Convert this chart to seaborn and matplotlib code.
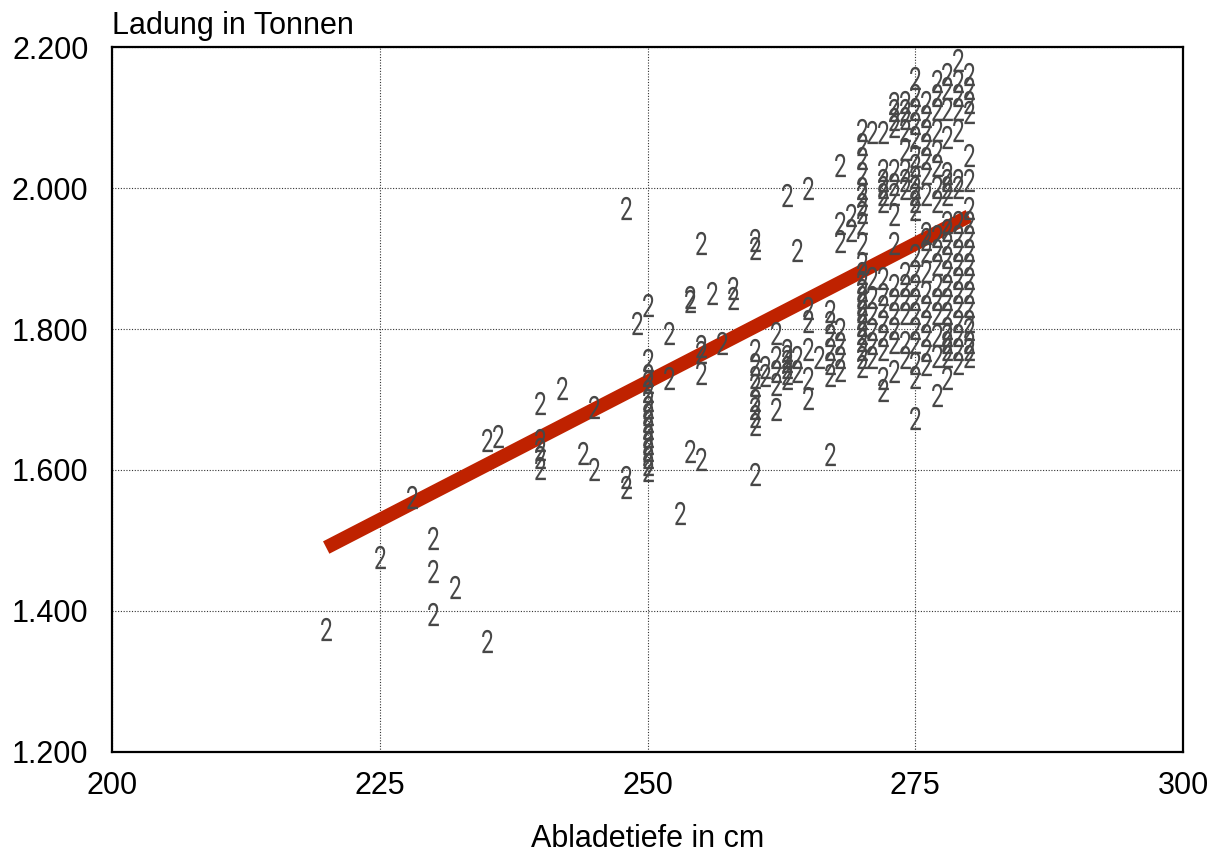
import matplotlib
matplotlib.use('Agg')
import matplotlib.pyplot as plt
from matplotlib.path import Path
from matplotlib.textpath import TextPath
from matplotlib.font_manager import FontProperties
from matplotlib.ticker import FuncFormatter
import pandas as pd
import seaborn as sns

tiefe_cm = (
    [220] + [225] + [228] + [230] * 3 + [232] + [235] * 2 + [236]
    + [240] * 5 + [242] + [244] + [245] * 2 + [248] * 3 + [249]
    + [250] * 16 + [252] * 2 + [253] + [254] * 3 + [255] * 5 + [256] + [257]
    + [258] * 2 + [260] * 11 + [261] * 2 + [262] * 5 + [263] * 7 + [264] * 3
    + [265] * 6 + [266] + [267] * 7 + [268] * 7 + [269] * 2 + [270] * 24
    + [271] * 7 + [272] * 14 + [273] * 15 + [274] * 14 + [275] * 22
    + [276] * 17 + [277] * 17 + [278] * 22 + [279] * 18 + [280] * 19
)
ladung_t = [
    1375, 1477, 1562, 1503, 1457, 1396, 1434, 1642, 1357, 1648,
    1695, 1642, 1630, 1618, 1603, 1716, 1624, 1689, 1601, 1971, 1590, 1576, 1808,
    1834, 1756, 1735, 1725, 1712, 1700, 1690, 1680, 1670, 1660, 1648, 1638, 1628, 1618, 1608, 1600,
    1794, 1730, 1539, 1840, 1845, 1627, 1922, 1776, 1767, 1737, 1615, 1851, 1780,
    1858, 1844,
    1926, 1915, 1770, 1750, 1732, 1720, 1700, 1688, 1676, 1665, 1594,
    1746, 1735,
    1794, 1760, 1740, 1722, 1686,
    1990, 1770, 1762, 1754, 1746, 1738, 1730,
    1912, 1760, 1740,
    2000, 1830, 1812, 1772, 1730, 1702,
    1760,
    1825, 1810, 1792, 1772, 1752, 1735, 1622,
    2032, 1950, 1925, 1800, 1780, 1760, 1742,
    1962, 1940,
    2082, 2062, 2042, 2022, 2000, 1990, 1978, 1966, 1950, 1922, 1893, 1880,
    1866, 1855, 1845, 1835, 1825, 1815, 1805, 1795, 1785, 1772, 1760, 1748,
    2080, 1872, 1845, 1822, 1800, 1780, 1760,
    2080, 2025, 2012, 2002, 1992, 1982, 1872, 1850, 1832, 1812, 1792, 1772, 1730, 1713,
    2120, 2110, 2098, 2088, 2025, 2005, 1992, 1963, 1922, 1862, 1842, 1822, 1802, 1782, 1740,
    2122, 2110, 2100, 2082, 2055, 2025, 2012, 2000, 1880, 1862, 1842, 1822, 1782, 1760,
    2156, 2132, 2112, 2092, 2072, 2045, 2032, 2015, 2002, 1992, 1982, 1970,
    1905, 1882, 1862, 1842, 1822, 1802, 1782, 1752, 1732, 1674,
    2122, 2102, 2082, 2062, 2042, 2022, 1992, 1936, 1928, 1910, 1882, 1852,
    1832, 1812, 1792, 1770, 1750,
    2152, 2132, 2112, 2082, 2052, 2032, 2002, 1982, 1932, 1912, 1892, 1862,
    1842, 1822, 1792, 1762, 1706,
    2162, 2142, 2112, 2072, 2022, 2012, 2002, 1992, 1952, 1940, 1922, 1902,
    1882, 1862, 1842, 1822, 1802, 1792, 1782, 1772, 1762, 1730,
    2181, 2152, 2132, 2112, 2082, 2012, 2002, 1952, 1932, 1912, 1892, 1872,
    1852, 1832, 1812, 1792, 1772, 1752,
    2162, 2142, 2122, 2108, 2047, 2012, 1972, 1952, 1932, 1912, 1892, 1872,
    1852, 1832, 1812, 1800, 1782, 1772, 1762,
]

# Trendlinie (Anfang / Ende)
trend_cm = [220, 280]
trend_t = [1490, 1960]

x_ticks = [200, 225, 250, 275, 300]
y_ticks = [1200, 1400, 1600, 1800, 2000, 2200]

doc = pd.DataFrame({'tiefe': tiefe_cm, 'ladung': ladung_t})
trend = pd.DataFrame({'tiefe': trend_cm, 'ladung': trend_t})

sns.set_style('white')
plt.rcParams['font.family'] = ['Liberation Sans', 'DejaVu Sans']
plt.rcParams['text.color'] = 'black'

# the "2" glyph used as marker, squeezed to look condensed
tp = TextPath((0, 0), '2', size=1, prop=FontProperties(family='Roboto', weight='normal'))
v = tp.vertices.copy()
codes = tp.codes
real = codes != Path.CLOSEPOLY
cx = (v[real, 0].min() + v[real, 0].max()) / 2
cy = (v[real, 1].min() + v[real, 1].max()) / 2
v[:, 0] = (v[:, 0] - cx) * 0.70
v[:, 1] = v[:, 1] - cy
v[~real] = 0
two = Path(v, codes)

fig = plt.figure(figsize=(12.2, 8.52), dpi=100)
ax = fig.add_axes([0.0918, 0.1174, 0.8779, 0.8274])

sns.lineplot(data=trend, x='tiefe', y='ladung', ax=ax, color='#bf2200',
             lw=10, solid_capstyle='butt', zorder=2)
sns.scatterplot(data=doc, x='tiefe', y='ladung', ax=ax, marker=two, s=280,
                color='#474747', linewidth=0, zorder=3)

ax.set_xlim(200, 300)
ax.set_ylim(1200, 2200)
ax.set_xticks(x_ticks)
ax.set_yticks(y_ticks)
ax.yaxis.set_major_formatter(FuncFormatter(lambda v, p: f'{v:,.0f}'.replace(',', '.')))
ax.tick_params(length=0, labelsize=22, labelcolor='black')
ax.tick_params(axis='x', pad=14)
ax.tick_params(axis='y', pad=17)
ax.grid(True, color='#333333', linestyle=(0, (1, 1.5)), lw=0.8)
for s in ax.spines.values():
    s.set_linewidth(1.6)
    s.set_color('black')

ax.set_xlabel('Abladetiefe in cm', fontsize=22, labelpad=16, color='black')
ax.set_ylabel('')
ax.text(0, 1.008, 'Ladung in Tonnen', transform=ax.transAxes, fontsize=22,
        ha='left', va='bottom')

fig.savefig('out.png', dpi=100)
